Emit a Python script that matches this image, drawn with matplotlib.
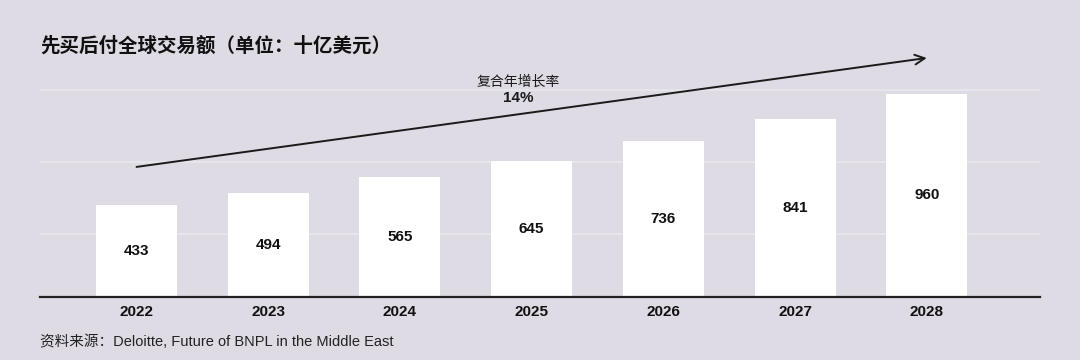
import matplotlib.pyplot as plt
import numpy as np

plt.rcParams['font.family'] = ['Liberation Sans', 'Noto Sans CJK SC', 'DejaVu Sans']

years = ['2022', '2023', '2024', '2025', '2026', '2027', '2028']
values = [433, 494, 565, 645, 736, 841, 960]
grid_vals = [300, 640, 980]

bg = '#dedbe4'
fig = plt.figure(figsize=(10.8, 3.6), dpi=100, facecolor=bg)
ax = fig.add_axes([40 / 1080, 63 / 360, 1000 / 1080, 257 / 360])
ax.set_facecolor(bg)

x = np.arange(len(years))
for g in grid_vals:
    ax.axhline(g, color='#e7e5ec', lw=1.5, zorder=0)
ax.bar(x, values, width=0.615, color='white', zorder=2)
for xi, v in zip(x, values):
    ax.text(xi, v / 2, str(v), ha='center', va='center', fontsize=11,
            fontweight='bold', color='#111111', zorder=3)

ax.set_xlim(-0.733, 6.86)
ax.set_ylim(0, 1215)
ax.set_xticks(x)
ax.set_xticklabels(years, fontsize=11, fontweight='bold', color='#111111')
ax.tick_params(axis='x', length=0, pad=6)
ax.set_yticks([])
for s in ['top', 'right', 'left']:
    ax.spines[s].set_visible(False)
ax.spines['bottom'].set_color('#222222')
ax.spines['bottom'].set_linewidth(1.6)

# CAGR arrow
ax.annotate('', xy=(6.0, 1130), xytext=(0, 615), annotation_clip=False,
            arrowprops=dict(arrowstyle='->,head_length=0.7,head_width=0.35',
                            color='#1a1a1a', lw=1.4, shrinkA=0, shrinkB=0))
ax.text(2.9, 1017, '复合年增长率', ha='center', va='center', fontsize=10,
        color='#1a1a1a')
ax.text(2.9, 941, '14%', ha='center', va='center', fontsize=11,
        fontweight='bold', color='#1a1a1a')

fig.text(40 / 1080, 1 - 46 / 360, '先买后付全球交易额（单位：十亿美元）',
         ha='left', va='center', fontsize=14, fontweight='bold', color='#111111')
fig.text(40 / 1080, 1 - 342 / 360, '资料来源：Deloitte, Future of BNPL in the Middle East',
         ha='left', va='center', fontsize=10.5, color='#222222')

fig.savefig('out.png', dpi=100, facecolor=bg)
